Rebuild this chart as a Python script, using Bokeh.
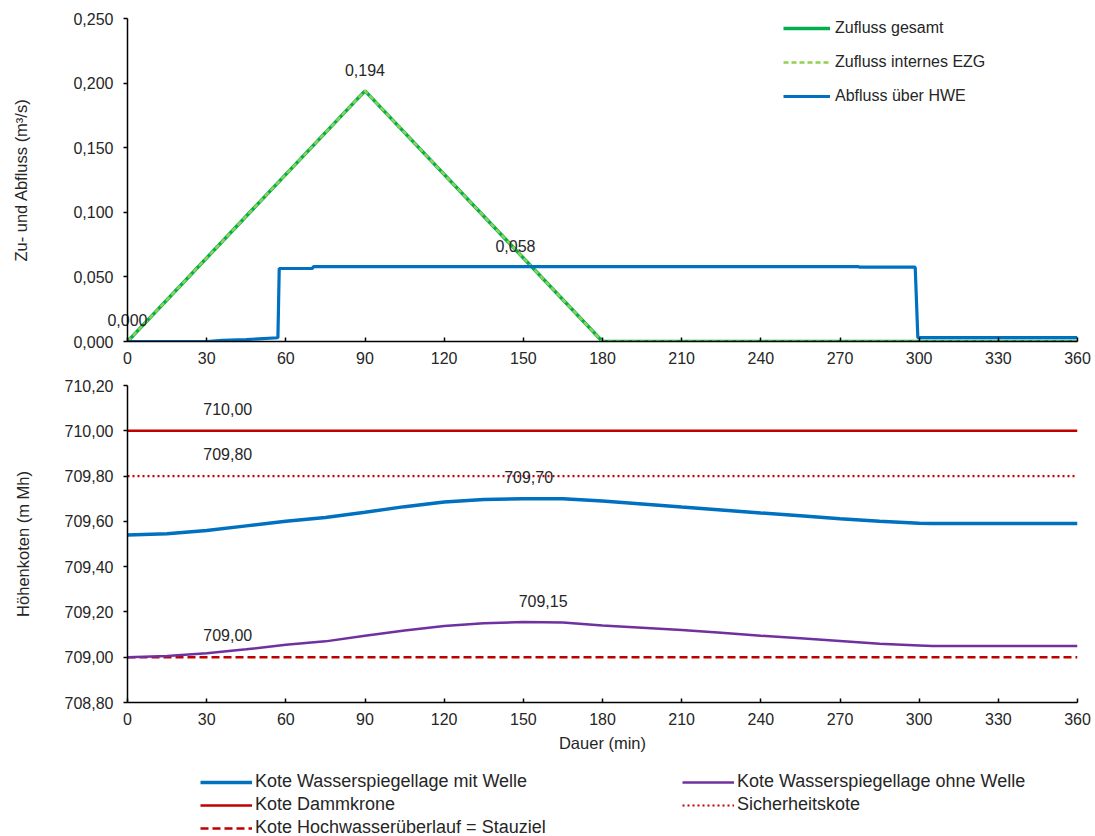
from bokeh.plotting import figure
from bokeh.layouts import column
from bokeh.models import (Range1d, FixedTicker, CustomJSTickFormatter, Legend,
                          LegendItem, ColumnDataSource, LabelSet, LinearAxis)
from bokeh.core.properties import value
from bokeh.embed import file_html
from bokeh.resources import INLINE

# ---------------- data: upper chart (Zu- und Abfluss, m³/s) ----------------
t_zufluss = [0, 90, 180, 360]
q_zufluss_gesamt = [0.0, 0.194, 0.0, 0.0]
q_zufluss_ezg = [0.0, 0.194, 0.0, 0.0]

t_abfluss = [0, 30, 36, 45, 57, 57.5, 70, 70.5, 277, 277.5, 298.5, 299.5, 360]
q_abfluss = [0.0, 0.0, 0.0008, 0.0015, 0.0029, 0.0565, 0.0565, 0.058, 0.058,
             0.0575, 0.0575, 0.003, 0.003]

top_label_x = [0, 90, 147]
top_label_y = [0.0, 0.194, 0.058]
top_label_text = ["0,000", "0,194", "0,058"]

# ---------------- data: lower chart (Höhenkoten, m Mh) ----------------
t_level = [0, 15, 30, 45, 60, 75, 90, 105, 120, 135, 150, 165, 180, 195, 210,
           225, 240, 255, 270, 285, 300, 305, 315, 330, 345, 360]
h_mit_welle = [709.54, 709.545, 709.56, 709.58, 709.60, 709.617, 709.64, 709.665,
               709.685, 709.697, 709.70, 709.70, 709.69, 709.677, 709.663, 709.65,
               709.637, 709.625, 709.612, 709.60, 709.592, 709.59, 709.59, 709.59,
               709.59, 709.59]
h_ohne_welle = [709.00, 709.005, 709.017, 709.035, 709.055, 709.07, 709.095, 709.118,
                709.138, 709.15, 709.155, 709.153, 709.14, 709.13, 709.12, 709.108,
                709.095, 709.084, 709.072, 709.06, 709.052, 709.049, 709.049, 709.049,
                709.049, 709.049]
t_const = [0, 360]
h_dammkrone = [710.00, 710.00]
h_sicherheit = [709.80, 709.80]
h_stauziel = [709.00, 709.00]

bottom_label_x = [38, 38, 152, 157.5, 38]
bottom_label_y = [710.00, 709.80, 709.70, 709.15, 709.00]
bottom_label_text = ["710,00", "709,80", "709,70", "709,15", "709,00"]

x_ticks = [0, 30, 60, 90, 120, 150, 180, 210, 240, 270, 300, 330, 360]
top_y_ticks = [0.0, 0.05, 0.10, 0.15, 0.20, 0.25]
bottom_y_ticks = [708.8, 709.0, 709.2, 709.4, 709.6, 709.8, 710.0, 710.2]

legend_labels = ["Kote Wasserspiegellage mit Welle",
                 "Kote Wasserspiegellage ohne Welle",
                 "Kote Dammkrone",
                 "Sicherheitskote",
                 "Kote Hochwasserüberlauf = Stauziel"]

# ---------------- styles ----------------
FONT = "Liberation Sans"
TXT = "#262626"
GREEN = "#00B050"
LGREEN = "#92D050"
BLUE = "#0070C0"
RED = "#C00000"
PURPLE = "#7030A0"


def style_axes(p, ylabel, yfmt, xlabel=None):
    for ax in (p.xaxis[0], p.yaxis[0]):
        ax.axis_line_color = "black"
        ax.axis_line_width = 1.5
        ax.major_tick_line_color = "black"
        ax.major_tick_line_width = 1.5
        ax.minor_tick_line_color = None
        ax.major_label_text_font = FONT
        ax.major_label_text_font_size = "16px"
        ax.major_label_text_color = TXT
        ax.axis_label_text_font = FONT
        ax.axis_label_text_font_size = "16.5px"
        ax.axis_label_text_font_style = "normal"
        ax.axis_label_text_color = TXT
    p.xaxis[0].ticker = FixedTicker(ticks=x_ticks)
    p.xaxis[0].major_tick_in = 4
    p.xaxis[0].major_tick_out = 0
    p.xaxis[0].major_label_standoff = 10
    p.yaxis[0].major_tick_in = 0
    p.yaxis[0].major_tick_out = 4
    p.yaxis[0].major_label_standoff = 10
    p.yaxis[0].formatter = CustomJSTickFormatter(
        code="return tick.toFixed(%d).replace('.', ',');" % yfmt)
    p.yaxis[0].axis_label = ylabel
    if xlabel:
        p.xaxis[0].axis_label = xlabel
        p.xaxis[0].axis_label_standoff = 6
    p.xgrid.grid_line_color = None
    p.ygrid.grid_line_color = None
    p.outline_line_color = None


def labels(src, off):
    return LabelSet(x="x", y="y", text="t", source=src, text_font=value(FONT),
                    text_font_size="16px", text_color=TXT, text_align="center",
                    text_baseline="middle", y_offset=off, level="overlay")


# ---------------- upper figure ----------------
p1 = figure(width=1095, height=375, output_backend="svg", toolbar_location=None,
            x_range=Range1d(0, 360), y_range=Range1d(0, 0.25))
p1.min_border_left = 127
p1.min_border_right = 18
p1.min_border_top = 18
p1.min_border_bottom = 34
style_axes(p1, "Zu- und Abfluss (m³/s)", 3)
p1.yaxis[0].ticker = FixedTicker(ticks=top_y_ticks)
p1.yaxis[0].axis_label_standoff = 40

r_zg = p1.line(t_zufluss, q_zufluss_gesamt, line_color=GREEN, line_width=3.5)
r_ze = p1.line(t_zufluss, q_zufluss_ezg, line_color=LGREEN, line_width=2.5,
               line_dash="5 3")
r_ab = p1.line(t_abfluss, q_abfluss, line_color=BLUE, line_width=3.2)

# labels inside the plot area
src_top = ColumnDataSource(dict(x=top_label_x[1:], y=top_label_y[1:],
                                t=top_label_text[1:]))
p1.add_layout(labels(src_top, 21))

# the label sitting on the y axis at t=0 would be clipped by the plot frame,
# so it is drawn by a bare helper axis (not clipped) placed above the frame
lbl_axis = LinearAxis(ticker=FixedTicker(ticks=[top_label_x[0]]),
                      major_label_overrides={top_label_x[0]: top_label_text[0]},
                      axis_line_color=None, major_tick_line_color=None,
                      minor_tick_line_color=None, major_tick_in=0,
                      major_tick_out=0, major_label_standoff=-307,
                      major_label_text_font=FONT,
                      major_label_text_font_size="16px",
                      major_label_text_color=TXT)
p1.add_layout(lbl_axis, "above")

leg1 = Legend(items=[LegendItem(label="Zufluss gesamt", renderers=[r_zg]),
                     LegendItem(label="Zufluss internes EZG", renderers=[r_ze]),
                     LegendItem(label="Abfluss über HWE", renderers=[r_ab])],
              location=(656, 235))
leg1.label_text_font = FONT
leg1.label_text_font_size = "16px"
leg1.label_text_color = TXT
leg1.glyph_width = 47
leg1.glyph_height = 20
leg1.label_height = 20
leg1.label_standoff = 5
leg1.spacing = 14
leg1.padding = 0
leg1.margin = 0
leg1.border_line_alpha = 0
leg1.background_fill_alpha = 0
p1.add_layout(leg1)

# ---------------- lower figure ----------------
p2 = figure(width=1095, height=388, output_backend="svg", toolbar_location=None,
            x_range=Range1d(0, 360), y_range=Range1d(708.8, 710.2))
p2.min_border_left = 127
p2.min_border_right = 18
p2.min_border_top = 10
p2.min_border_bottom = 61
style_axes(p2, "Höhenkoten (m Mh)", 2, "Dauer (min)")
p2.yaxis[0].ticker = FixedTicker(ticks=bottom_y_ticks)
p2.yaxis[0].axis_label_standoff = 30

line_specs = [
    dict(line_color=BLUE, line_width=3.5),
    dict(line_color=PURPLE, line_width=2.5),
    dict(line_color=RED, line_width=2.5),
    dict(line_color=RED, line_width=2.2, line_dash="2 3"),
    dict(line_color=RED, line_width=2.5, line_dash="8 4"),
]

p2.line(t_const, h_dammkrone, **line_specs[2])
p2.line(t_const, h_sicherheit, **line_specs[3])
p2.line(t_const, h_stauziel, **line_specs[4])
p2.line(t_level, h_ohne_welle, **line_specs[1])
p2.line(t_level, h_mit_welle, **line_specs[0])

src_bot = ColumnDataSource(dict(x=bottom_label_x, y=bottom_label_y,
                                t=bottom_label_text))
p2.add_layout(labels(src_bot, 22))

# ---------------- legend strip ----------------
p3 = figure(width=1095, height=73, output_backend="svg", toolbar_location=None,
            x_axis_type=None, y_axis_type=None,
            x_range=Range1d(0, 1), y_range=Range1d(0, 1))
p3.min_border_left = 127
p3.min_border_right = 18
p3.min_border_top = 0
p3.min_border_bottom = 0
p3.outline_line_color = None
p3.xgrid.grid_line_color = None
p3.ygrid.grid_line_color = None

items = []
nan = float("nan")
for lab, spec in zip(legend_labels, line_specs):
    r = p3.line(x=[nan, nan], y=[nan, nan], **spec)
    items.append(LegendItem(label=lab, renderers=[r]))

leg2 = Legend(items=items, orientation="horizontal", ncols=2, location=(73, -2))
leg2.label_text_font = FONT
leg2.label_text_font_size = "18px"
leg2.label_text_color = TXT
leg2.glyph_width = 52
leg2.glyph_height = 20
leg2.label_height = 20
leg2.label_width = 425
leg2.label_standoff = 3
leg2.spacing = 2
leg2.padding = 0
leg2.margin = 0
leg2.border_line_alpha = 0
leg2.background_fill_alpha = 0
p3.add_layout(leg2)

layout = column(p1, p2, p3, spacing=0)
open("out.html", "w").write(file_html(layout, INLINE))
